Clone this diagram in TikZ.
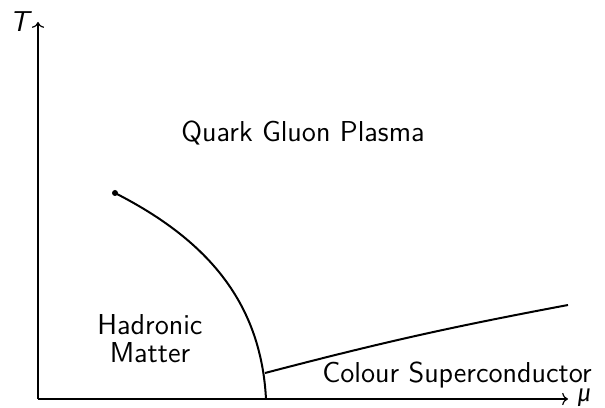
\documentclass[tikz,border=0pt]{standalone}
\usepackage{fontspec}
\renewcommand{\familydefault}{\sfdefault}
\newfontfamily\greeksans{Fira Sans}
\usepackage{tikz}
\usetikzlibrary{arrows.meta, positioning}

\tikzset{
  axis/.style={semithick, ->},
  border/.style={line width=1pt},
  region/.style={font=\Large, align=center}
}

\begin{document}
\begin{tikzpicture}[x=0.5pt, y=0.5pt]
  \useasboundingbox (0,0) rectangle (605,407);
  \coordinate (o) at (38,8);
  \coordinate (ttop) at (38,385);
  \coordinate (mutip) at (568,8);
  \draw[axis] (o) -- (ttop); \draw[axis] (o) -- (mutip);
  \node[left=1pt of ttop, font=\Large\itshape] (tlab) {T};
  \node[anchor=base west, inner sep=0pt, xshift=4.5pt, yshift=-1.5pt,
        font=\large\greeksans\itshape] (mulab) at (mutip) {μ};
  % phase boundaries
  \coordinate (cep) at (115,214);
  \coordinate (foot) at (266,8);
  \coordinate (tri) at (265,34);
  \coordinate (csend) at (568,102);
  \draw[border] (cep) to[out=-27, in=93] (foot);
  \draw[border] (tri) to[bend left=2] (csend);
  \fill (cep) circle (3);
  \node[region] (qgp) at (303,274) {Quark Gluon Plasma};
  \node[region] (hadr) at (150,68) {Hadronic\\[-4pt]Matter};
  \node[region] (csc) at (457,32) {Colour Superconductor};
\end{tikzpicture}
\end{document}
